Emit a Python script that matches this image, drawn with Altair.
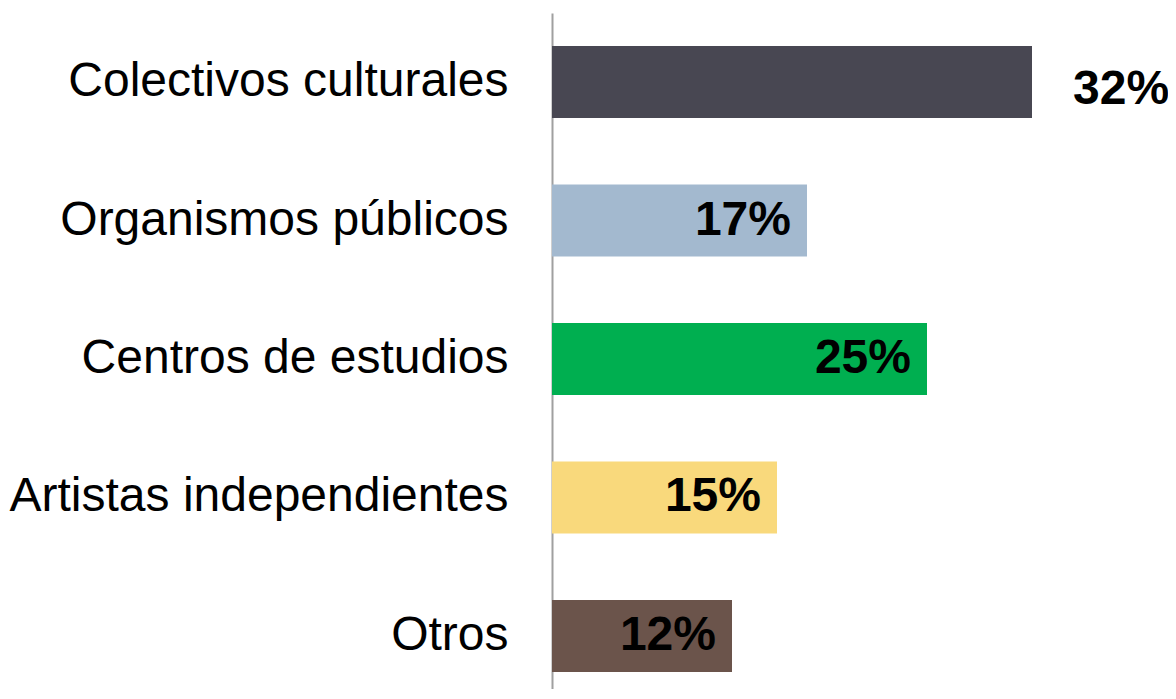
import altair as alt
import pandas as pd

categories = ["Colectivos culturales", "Organismos públicos", "Centros de estudios",
              "Artistas independientes", "Otros"]
values = [32, 17, 25, 15, 12]
labels = ["32%", "17%", "25%", "15%", "12%"]
colors = ["#484752", "#A3B9CF", "#00AF50", "#F9D97C", "#6B544B"]

df = pd.DataFrame({"cat": categories, "val": values, "lab": labels})

y_enc = alt.Y("cat:N", sort=categories, title=None,
              scale=alt.Scale(paddingInner=0.48, paddingOuter=0.1805, align=0.66),
              axis=alt.Axis(labelFont="Liberation Sans", labelFontSize=48, labelColor="#000000",
                            labelPadding=44, ticks=False, domainColor="#A0A0A0",
                            domainWidth=2, labelLimit=0))
x_enc = alt.X("val:Q", title=None, scale=alt.Scale(domain=[0, 33], nice=False, zero=True),
              axis=None)

bars = alt.Chart(df).mark_bar().encode(
    y=y_enc, x=x_enc,
    color=alt.Color("cat:N", scale=alt.Scale(domain=categories, range=colors), legend=None),
)

inside = alt.Chart(df).transform_filter(alt.datum.val < 30).mark_text(
    align="right", baseline="middle", dx=-16, font="Liberation Sans", fontSize=48,
    fontWeight="bold", color="#000000"
).encode(y=alt.Y("cat:N", sort=categories), x="val:Q", text="lab:N")

outside = alt.Chart(df).transform_filter(alt.datum.val >= 30).mark_text(
    align="left", baseline="middle", dx=41, dy=8, font="Liberation Sans", fontSize=48,
    fontWeight="bold", color="#000000"
).encode(y=alt.Y("cat:N", sort=categories), x="val:Q", text="lab:N")

chart = alt.layer(bars, inside, outside).properties(
    width=495, height=676,
    autosize=alt.AutoSizeParams(type="none"),
    padding={"left": 544, "top": 5, "right": 121, "bottom": 0},
).configure_view(stroke=None)

chart.save("out.html", embed_options={"renderer": "svg", "actions": False})
